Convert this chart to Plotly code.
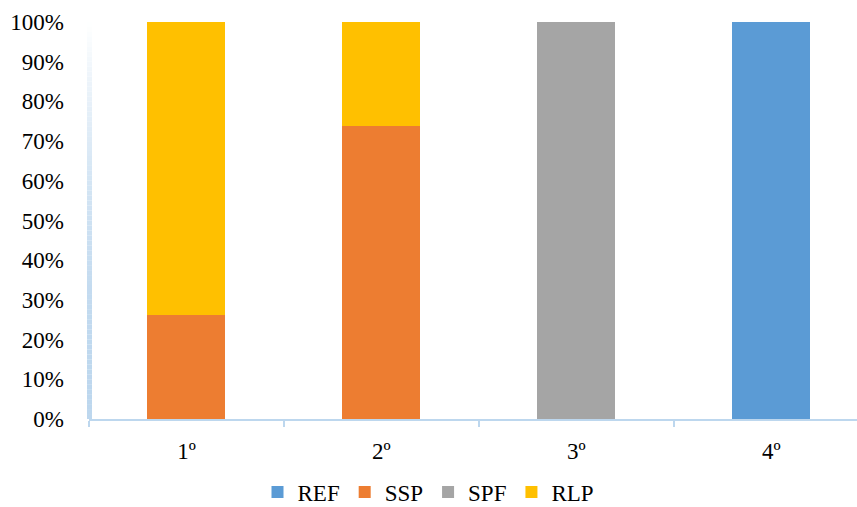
import plotly.graph_objects as go

categories = ["1º", "2º", "3º", "4º"]
series_names = ["REF", "SSP", "SPF", "RLP"]
ref_vals = [0, 0, 0, 100]
ssp_vals = [26.2, 73.8, 0, 0]
spf_vals = [0, 0, 100, 0]
rlp_vals = [73.8, 26.2, 0, 0]
y_ticks = [0, 10, 20, 30, 40, 50, 60, 70, 80, 90, 100]
y_tick_text = [f"{v}%" for v in y_ticks]

colors = {"REF": "#5B9BD5", "SSP": "#ED7D31", "SPF": "#A5A5A5", "RLP": "#FFC000"}
values = {"REF": ref_vals, "SSP": ssp_vals, "SPF": spf_vals, "RLP": rlp_vals}

W, H = 857, 507
L, R, T, B = 89, 0, 22, 88
FONT = "Liberation Serif"

fig = go.Figure()
for name in series_names:
    fig.add_trace(go.Bar(
        x=categories, y=values[name], name=name,
        marker=dict(color=colors[name], line=dict(width=0)),
    ))

# Vertical axis drawn as a thin strip fading from white at the top to light blue
n = 80
pw = W - L - R
x0 = -2 / pw
x1 = 3 / pw
top_rgb = (255, 255, 255)
bot_rgb = (189, 215, 238)
for i in range(n):
    f = (i + 0.5) / n  # 0 at bottom, 1 at top
    w = f ** 2
    c = tuple(round(bot_rgb[k] + (top_rgb[k] - bot_rgb[k]) * w) for k in range(3))
    fig.add_shape(type="rect", xref="paper", yref="paper",
                  x0=x0, x1=x1, y0=i / n, y1=(i + 1) / n,
                  line=dict(width=0), fillcolor=f"rgb{c}", layer="above")

fig.update_layout(
    width=W, height=H,
    margin=dict(l=L, r=R, t=T, b=B, autoexpand=False),
    barmode="stack",
    bargap=0.6,
    plot_bgcolor="white",
    paper_bgcolor="white",
    font=dict(family=FONT, size=23, color="#000000"),
    showlegend=True,
    legend=dict(orientation="h", x=0.5, xanchor="center", xref="container",
                y=15 / H, yanchor="middle", yref="container",
                traceorder="normal",
                font=dict(family=FONT, size=23), itemwidth=30,
                tracegroupgap=0),
    xaxis=dict(
        range=[-0.5, 3.44],
        showline=True, linecolor="#BDD7EE", linewidth=2,
        ticks="outside", tickson="boundaries", ticklen=6, tickcolor="#BDD7EE",
        tickwidth=1.5, showgrid=False, tickfont=dict(family=FONT, size=23),
        ticklabelstandoff=10,
    ),
    yaxis=dict(
        range=[0, 100], tickvals=y_ticks, ticktext=y_tick_text,
        showgrid=False, showline=False, zeroline=False,
        ticks="", ticklabelstandoff=24, tickfont=dict(family=FONT, size=23),
    ),
)

fig.write_html("out.html")
